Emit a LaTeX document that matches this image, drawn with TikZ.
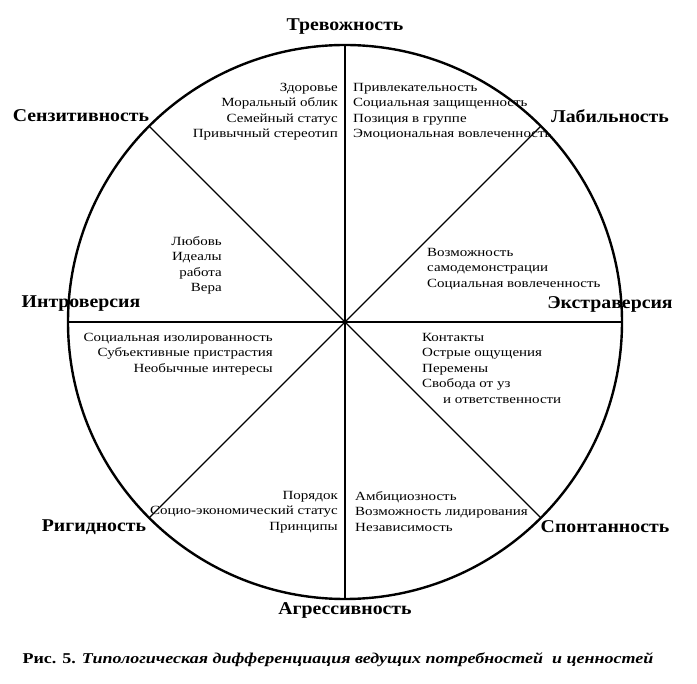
\documentclass[tikz,border=0pt]{standalone}
\usepackage{fontspec}
\newfontfamily\labfont[FakeStretch=1.1]{Liberation Serif}
\newfontfamily\txtfont[FakeStretch=1.2]{Liberation Serif}
\begin{document}
\begin{tikzpicture}[x=1pt,y=-1pt,
  lbl/.style={font=\labfont\bfseries\fontsize{18}{20}\selectfont, inner sep=0},
  txt/.style={font=\txtfont\fontsize{12.5}{15.5}\selectfont, inner sep=0},
  captxt/.style={font=\txtfont\bfseries\fontsize{15}{17}\selectfont, inner sep=0},
  rim/.style={line width=2.4pt},
  spoke/.style={line width=1.4pt}]
\useasboundingbox (0,0) rectangle (697,684);
\coordinate (O) at (345,322);
\draw[rim] (O) circle[radius=277];
\coordinate (N) at (345,45);
\coordinate (S) at (345,599);
\coordinate (W) at (68,322);
\coordinate (E) at (622,322);
\coordinate (NW) at (149.1,126.1);
\coordinate (NE) at (540.9,126.1);
\coordinate (SW) at (149.1,517.9);
\coordinate (SE) at (540.9,517.9);
\draw[spoke] (N) -- (S);
\draw[spoke] (W) -- (E);
\draw[spoke] (NW) -- (SE);
\draw[spoke] (NE) -- (SW);
% axis labels
\node[lbl] (trev) at (345,27) {Тревожность};
\node[lbl] (senz) at (81,116) {Сензитивность};
\node[lbl] (labil) at (610,116) {Лабильность};
\node[lbl] (intro) at (81,304) {Интроверсия};
\node[lbl] (extra) at (610,304) {Экстраверсия};
\node[lbl] (rigid) at (94,527) {Ригидность};
\node[lbl] (spont) at (605,527) {Спонтанность};
\node[lbl] (aggr) at (345,610) {Агрессивность};
% values
\node[txt, anchor=north east, align=right] (t1) at (338,83) {Здоровье\\Моральный облик\\Семейный статус\\Привычный стереотип};
\node[txt, anchor=north west, align=left] (t2) at (353,83) {Привлекательность\\Социальная защищенность\\Позиция в группе\\Эмоциональная вовлеченность};
\node[txt, anchor=north east, align=right] (t3) at (222,236) {Любовь\\Идеалы\\работа\\Вера};
\node[txt, anchor=north west, align=left] (t4) at (427,248) {Возможность\\самодемонстрации\\Социальная вовлеченность};
\node[txt, anchor=north east, align=right] (t5) at (273,333) {Социальная изолированность\\Субъективные пристрастия\\Необычные интересы};
\node[txt, anchor=north west, align=left] (t6) at (422,333) {Контакты\\Острые ощущения\\Перемены\\Свобода от уз\\\hspace*{21pt}и ответственности};
\node[txt, anchor=north east, align=right] (t7) at (338,491) {Порядок\\Социо-экономический статус\\Принципы};
\node[txt, anchor=north west, align=left] (t8) at (355,491) {Амбициозность\\Возможность лидирования\\Независимость};
% caption
\node[captxt] (caption) at (338,660) {Рис. 5. \textit{Типологическая дифференциация ведущих потребностей\ \ и ценностей}};
\end{tikzpicture}
\end{document}
